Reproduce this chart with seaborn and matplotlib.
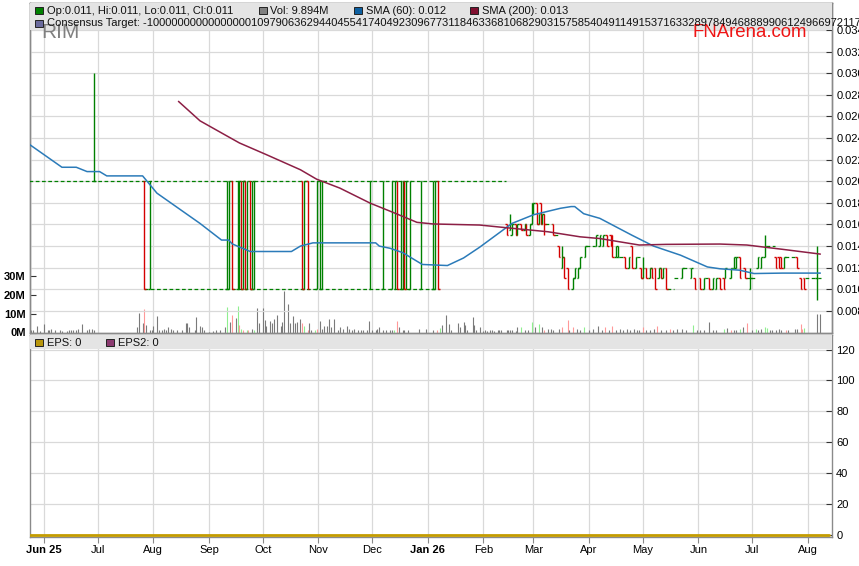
import numpy as np
import pandas as pd
import matplotlib
matplotlib.use("Agg")
import matplotlib.pyplot as plt
import matplotlib.dates as mdates
from matplotlib.patches import Rectangle
from matplotlib import font_manager
import seaborn as sns

sns.set_theme(style="ticks")
plt.rcParams['font.family'] = ['Liberation Sans', 'DejaVu Sans']
_names = {f.name for f in font_manager.fontManager.ttflist}
NARROW = 'Liberation Sans Narrow' if 'Liberation Sans Narrow' in _names else 'Liberation Sans'

# ------------------------------------------------------------------ data
# range-bound bars (2025 - Jan 2026)
range_dates = ['2025-06-29', '2025-07-27', '2025-07-30',
               '2025-09-11', '2025-09-12', '2025-09-14', '2025-09-17', '2025-09-18', '2025-09-19',
               '2025-09-20', '2025-09-21', '2025-09-22', '2025-09-24', '2025-09-25', '2025-09-26',
               '2025-10-23', '2025-10-24', '2025-10-26', '2025-10-31', '2025-11-02', '2025-11-03',
               '2025-11-30', '2025-12-07', '2025-12-12', '2025-12-14', '2025-12-15', '2025-12-17',
               '2025-12-18', '2025-12-19', '2025-12-20', '2025-12-22', '2025-12-28',
               '2026-01-04', '2026-01-05', '2026-01-07']
range_open = [0.020, 0.020, 0.010,
              0.010, 0.010, 0.020, 0.010, 0.010, 0.020,
              0.010, 0.020, 0.010, 0.020, 0.010, 0.010,
              0.020, 0.010, 0.020, 0.010, 0.010, 0.010,
              0.010, 0.010, 0.010, 0.010, 0.020, 0.010,
              0.010, 0.020, 0.010, 0.010, 0.010,
              0.010, 0.010, 0.020]
range_high = [0.030, 0.020, 0.020,
              0.020, 0.020, 0.020, 0.020, 0.020, 0.020,
              0.020, 0.020, 0.020, 0.020, 0.020, 0.020,
              0.020, 0.020, 0.020, 0.020, 0.020, 0.020,
              0.020, 0.020, 0.020, 0.020, 0.020, 0.020,
              0.020, 0.020, 0.020, 0.020, 0.020,
              0.020, 0.020, 0.020]
range_low = [0.020, 0.010, 0.010,
             0.010, 0.010, 0.010, 0.010, 0.010, 0.010,
             0.010, 0.010, 0.010, 0.010, 0.010, 0.010,
             0.010, 0.010, 0.010, 0.010, 0.010, 0.010,
             0.010, 0.010, 0.010, 0.010, 0.010, 0.010,
             0.010, 0.010, 0.010, 0.010, 0.010,
             0.010, 0.010, 0.010]
range_close = [0.020, 0.010, 0.020,
               0.020, 0.020, 0.010, 0.020, 0.020, 0.010,
               0.020, 0.010, 0.020, 0.010, 0.020, 0.020,
               0.010, 0.020, 0.010, 0.020, 0.020, 0.020,
               0.020, 0.020, 0.020, 0.020, 0.010, 0.020,
               0.020, 0.010, 0.020, 0.020, 0.020,
               0.020, 0.020, 0.010]

# traded bars (Feb - Aug 2026)
trade_dates = ['2026-02-14', '2026-02-16', '2026-02-17', '2026-02-19', '2026-02-20', '2026-02-22',
               '2026-02-24', '2026-02-25', '2026-02-27', '2026-02-28', '2026-03-01', '2026-03-03',
               '2026-03-04', '2026-03-05', '2026-03-06', '2026-03-07', '2026-03-12', '2026-03-15',
               '2026-03-17', '2026-03-18', '2026-03-20', '2026-03-23', '2026-03-24', '2026-03-26',
               '2026-03-27', '2026-03-30', '2026-04-05', '2026-04-07', '2026-04-09', '2026-04-11',
               '2026-04-13', '2026-04-14', '2026-04-16', '2026-04-17', '2026-04-21', '2026-04-23',
               '2026-04-25', '2026-04-27', '2026-04-30', '2026-05-01', '2026-05-03', '2026-05-05',
               '2026-05-06', '2026-05-08', '2026-05-10', '2026-05-11', '2026-05-12', '2026-05-14',
               '2026-05-23', '2026-05-28', '2026-05-30', '2026-06-02', '2026-06-04', '2026-06-07',
               '2026-06-09', '2026-06-11', '2026-06-13', '2026-06-15', '2026-06-16', '2026-06-19',
               '2026-06-21', '2026-06-22', '2026-06-24', '2026-06-27', '2026-06-30', '2026-07-04',
               '2026-07-06', '2026-07-08', '2026-07-14', '2026-07-16', '2026-07-17', '2026-07-19',
               '2026-07-26', '2026-07-28', '2026-07-30', '2026-08-06']
trade_open = [0.016, 0.0155, 0.015, 0.016, 0.015, 0.016,
              0.0155, 0.016, 0.015, 0.016, 0.017, 0.018,
              0.016, 0.018, 0.016, 0.017, 0.016, 0.014,
              0.012, 0.013, 0.012, 0.010, 0.011, 0.011,
              0.012, 0.013, 0.014, 0.014, 0.014, 0.015,
              0.015, 0.015, 0.013, 0.013, 0.013, 0.012,
              0.014, 0.012, 0.012, 0.011, 0.012, 0.011,
              0.012, 0.012, 0.011, 0.012, 0.011, 0.012,
              0.011, 0.011, 0.011, 0.011, 0.010, 0.011,
              0.010, 0.010, 0.011, 0.011, 0.011, 0.011,
              0.012, 0.012, 0.013, 0.012, 0.010, 0.012,
              0.012, 0.013, 0.013, 0.013, 0.013, 0.012,
              0.013, 0.011, 0.011, 0.011]
trade_high = [0.016, 0.017, 0.016, 0.016, 0.016, 0.016,
              0.016, 0.016, 0.016, 0.018, 0.018, 0.018,
              0.017, 0.018, 0.017, 0.017, 0.016, 0.014,
              0.014, 0.013, 0.012, 0.011, 0.012, 0.012,
              0.013, 0.014, 0.015, 0.015, 0.015, 0.015,
              0.015, 0.015, 0.014, 0.014, 0.013, 0.013,
              0.014, 0.013, 0.012, 0.013, 0.012, 0.012,
              0.012, 0.012, 0.012, 0.012, 0.012, 0.012,
              0.012, 0.012, 0.011, 0.011, 0.011, 0.011,
              0.011, 0.011, 0.011, 0.011, 0.012, 0.012,
              0.013, 0.013, 0.013, 0.012, 0.012, 0.013,
              0.013, 0.015, 0.013, 0.013, 0.013, 0.013,
              0.013, 0.011, 0.011, 0.014]
trade_low = [0.015, 0.0155, 0.015, 0.015, 0.015, 0.0155,
             0.0155, 0.015, 0.015, 0.016, 0.017, 0.016,
             0.016, 0.016, 0.016, 0.015, 0.015, 0.013,
             0.012, 0.011, 0.010, 0.010, 0.011, 0.011,
             0.012, 0.013, 0.014, 0.014, 0.014, 0.014,
             0.014, 0.013, 0.013, 0.013, 0.012, 0.012,
             0.012, 0.012, 0.011, 0.011, 0.011, 0.011,
             0.011, 0.010, 0.011, 0.011, 0.011, 0.010,
             0.011, 0.011, 0.010, 0.010, 0.010, 0.010,
             0.010, 0.010, 0.010, 0.010, 0.011, 0.011,
             0.012, 0.012, 0.011, 0.011, 0.010, 0.012,
             0.012, 0.013, 0.012, 0.012, 0.012, 0.012,
             0.012, 0.010, 0.010, 0.009]
trade_close = [0.015, 0.016, 0.016, 0.015, 0.016, 0.0155,
               0.016, 0.015, 0.016, 0.018, 0.018, 0.016,
               0.017, 0.016, 0.017, 0.016, 0.015, 0.013,
               0.013, 0.011, 0.010, 0.011, 0.012, 0.012,
               0.013, 0.014, 0.015, 0.015, 0.015, 0.014,
               0.014, 0.013, 0.014, 0.013, 0.012, 0.013,
               0.012, 0.013, 0.011, 0.012, 0.011, 0.012,
               0.011, 0.010, 0.012, 0.011, 0.012, 0.010,
               0.012, 0.012, 0.010, 0.010, 0.011, 0.010,
               0.011, 0.011, 0.010, 0.010, 0.012, 0.012,
               0.013, 0.013, 0.011, 0.011, 0.011, 0.013,
               0.013, 0.014, 0.012, 0.012, 0.012, 0.013,
               0.012, 0.010, 0.010, 0.011]

# periods without trades (price unchanged) -> dashed
flat_start = ['2025-05-24', '2025-07-27', '2026-03-08', '2026-03-13', '2026-03-31', '2026-04-18',
              '2026-04-28', '2026-05-15', '2026-05-19', '2026-05-24', '2026-06-05', '2026-06-20',
              '2026-06-28', '2026-07-01', '2026-07-09', '2026-07-20', '2026-07-31', '2026-08-07']
flat_end = ['2026-02-13', '2026-01-07', '2026-03-11', '2026-03-14', '2026-04-04', '2026-04-20',
            '2026-04-29', '2026-05-18', '2026-05-22', '2026-05-27', '2026-06-06', '2026-06-20',
            '2026-06-29', '2026-07-03', '2026-07-13', '2026-07-25', '2026-08-05', '2026-08-08']
flat_level = [0.020, 0.010, 0.016, 0.015, 0.014, 0.013,
              0.013, 0.010, 0.011, 0.012, 0.011, 0.012,
              0.011, 0.011, 0.014, 0.013, 0.011, 0.011]

# moving averages
sma60_dates = ['2025-05-24', '2025-06-11', '2025-06-19', '2025-06-25', '2025-07-02', '2025-07-06',
               '2025-07-26', '2025-07-29', '2025-08-03', '2025-08-27', '2025-09-08', '2025-09-12',
               '2025-09-14', '2025-09-24', '2025-10-17', '2025-10-22', '2025-10-29', '2025-12-03',
               '2025-12-05', '2025-12-11', '2025-12-18', '2025-12-29', '2026-01-12', '2026-01-21',
               '2026-01-30', '2026-02-17', '2026-03-01', '2026-03-16', '2026-03-22', '2026-03-24',
               '2026-03-29', '2026-04-07', '2026-04-25', '2026-05-07', '2026-05-22', '2026-06-06',
               '2026-06-13', '2026-06-24', '2026-07-02', '2026-07-18', '2026-08-08']
sma60_values = [0.0234, 0.0213, 0.0213, 0.0209, 0.0209, 0.0205,
                0.0205, 0.0199, 0.0189, 0.0161, 0.01456, 0.01456,
                0.0142, 0.0135, 0.0135, 0.0140, 0.0143, 0.0143,
                0.0140, 0.0138, 0.0134, 0.0123, 0.0122, 0.0129,
                0.0139, 0.0161, 0.0169, 0.0175, 0.01766, 0.01766,
                0.0170, 0.01657, 0.0150, 0.0140, 0.01316, 0.01207,
                0.0119, 0.01177, 0.01146, 0.0115, 0.0115]
sma200_dates = ['2025-08-15', '2025-08-27', '2025-09-11', '2025-09-18', '2025-10-03', '2025-10-22',
                '2025-10-31', '2025-11-13', '2025-11-30', '2025-12-13', '2025-12-26', '2026-01-04',
                '2026-01-30', '2026-02-17', '2026-03-09', '2026-03-27', '2026-04-07', '2026-04-29',
                '2026-05-14', '2026-06-13', '2026-06-28', '2026-07-18', '2026-08-08']
sma200_values = [0.0274, 0.0256, 0.0242, 0.02355, 0.02247, 0.02107,
                 0.0202, 0.01937, 0.01797, 0.0171, 0.0162, 0.01605,
                 0.01595, 0.01565, 0.01533, 0.01486, 0.0147, 0.0141,
                 0.01416, 0.01419, 0.0141, 0.0137, 0.01326]

# volume (millions); kind: n = unchanged, u = up day, d = down day
vol_dates = ['2025-05-25', '2025-05-26', '2025-05-28', '2025-05-30', '2025-06-01', '2025-06-03',
             '2025-06-04', '2025-06-05', '2025-06-07', '2025-06-10', '2025-06-11', '2025-06-14',
             '2025-06-15', '2025-06-16', '2025-06-17', '2025-06-19', '2025-06-20', '2025-06-22',
             '2025-06-25', '2025-06-26', '2025-06-28', '2025-06-29', '2025-07-23', '2025-07-24',
             '2025-07-26', '2025-07-27', '2025-07-28', '2025-07-30', '2025-07-31', '2025-08-01',
             '2025-08-03', '2025-08-04', '2025-08-06', '2025-08-07', '2025-08-08', '2025-08-09',
             '2025-08-11', '2025-08-12', '2025-08-14', '2025-08-17', '2025-08-19', '2025-08-20',
             '2025-08-21', '2025-08-24', '2025-08-25', '2025-08-27', '2025-08-28', '2025-08-29',
             '2025-09-01', '2025-09-03', '2025-09-05', '2025-09-07', '2025-09-10', '2025-09-11',
             '2025-09-13', '2025-09-14', '2025-09-16', '2025-09-17', '2025-09-18', '2025-09-19',
             '2025-09-20', '2025-09-22', '2025-09-23', '2025-09-25', '2025-09-26', '2025-09-28',
             '2025-09-29', '2025-10-01', '2025-10-02', '2025-10-03', '2025-10-05', '2025-10-06',
             '2025-10-07', '2025-10-09', '2025-10-11', '2025-10-12', '2025-10-13', '2025-10-15',
             '2025-10-16', '2025-10-18', '2025-10-19', '2025-10-20', '2025-10-22', '2025-10-23',
             '2025-10-24', '2025-10-26', '2025-10-27', '2025-10-28', '2025-10-30', '2025-10-31',
             '2025-11-02', '2025-11-03', '2025-11-04', '2025-11-06', '2025-11-07', '2025-11-08',
             '2025-11-10', '2025-11-12', '2025-11-13', '2025-11-15', '2025-11-17', '2025-11-18',
             '2025-11-20', '2025-11-21', '2025-11-23', '2025-11-25', '2025-11-26', '2025-11-28',
             '2025-11-29', '2025-12-01', '2025-12-03', '2025-12-04', '2025-12-05', '2025-12-07',
             '2025-12-09', '2025-12-11', '2025-12-12', '2025-12-13', '2025-12-15', '2025-12-16',
             '2025-12-18', '2025-12-19', '2025-12-21', '2025-12-27', '2025-12-31',
             '2026-01-04', '2026-01-06', '2026-01-08', '2026-01-09', '2026-01-11', '2026-01-13',
             '2026-01-14', '2026-01-18', '2026-01-19', '2026-01-21', '2026-01-22', '2026-01-23',
             '2026-01-26', '2026-01-27', '2026-01-28', '2026-01-30', '2026-02-01', '2026-02-02',
             '2026-02-03', '2026-02-05', '2026-02-06', '2026-02-07', '2026-02-09', '2026-02-10',
             '2026-02-11', '2026-02-14', '2026-02-15', '2026-02-16', '2026-02-17', '2026-02-19',
             '2026-02-20', '2026-02-22', '2026-02-24', '2026-02-26', '2026-02-28', '2026-03-02',
             '2026-03-04', '2026-03-06', '2026-03-07', '2026-03-09', '2026-03-11', '2026-03-12',
             '2026-03-15', '2026-03-17', '2026-03-20', '2026-03-21', '2026-03-23', '2026-03-25',
             '2026-03-27', '2026-03-29', '2026-04-01', '2026-04-03', '2026-04-06', '2026-04-08',
             '2026-04-10', '2026-04-12', '2026-04-14', '2026-04-16', '2026-04-18', '2026-04-20',
             '2026-04-22', '2026-04-24', '2026-04-26', '2026-04-28', '2026-04-29', '2026-05-01',
             '2026-05-03', '2026-05-05', '2026-05-07', '2026-05-09', '2026-05-11', '2026-05-14',
             '2026-05-16', '2026-05-18', '2026-05-20', '2026-05-23', '2026-05-25', '2026-05-29',
             '2026-05-31', '2026-06-02', '2026-06-04', '2026-06-07', '2026-06-09', '2026-06-11',
             '2026-06-15', '2026-06-17', '2026-06-19', '2026-06-21', '2026-06-22', '2026-06-24',
             '2026-06-26', '2026-06-28', '2026-07-01', '2026-07-03', '2026-07-04', '2026-07-06',
             '2026-07-08', '2026-07-09', '2026-07-11', '2026-07-12', '2026-07-14', '2026-07-16',
             '2026-07-17', '2026-07-20', '2026-07-21', '2026-07-25', '2026-07-26', '2026-07-28',
             '2026-07-29', '2026-07-30', '2026-08-06', '2026-08-08']
vol_millions = [1.6, 1.25, 3.4, 0.7, 4.5, 1.25,
                1.6, 2.1, 1.6, 1.25, 0.9, 0.7,
                1.25, 1.6, 1.25, 1.6, 2.1, 4.5,
                1.25, 2.1, 2.1, 1.25, 2.7, 10.2,
                5.2, 12.3, 3.9, 1.6, 1.25, 3.4,
                8.75, 1.25, 1.6, 2.1, 1.6, 2.7,
                2.1, 1.25, 1.25, 1.6, 5.2, 5.2,
                3.0, 1.6, 8.4, 3.4, 3.0, 1.6,
                0.4, 0.9, 1.25, 1.25, 3.0, 13.7,
                5.7, 9.3, 7.5, 14.1, 3.9, 2.1,
                1.25, 1.6, 1.25, 2.1, 1.6, 12.9,
                5.2, 12.9, 6.6, 3.4, 6.25, 5.2,
                7.0, 9.3, 3.4, 5.7, 22.3, 15.2,
                5.2, 8.75, 5.2, 5.7, 7.0, 5.2,
                3.4, 1.6, 5.2, 1.25, 1.6, 2.1,
                6.25, 2.1, 3.4, 3.4, 7.0, 3.0,
                7.0, 1.6, 2.7, 2.1, 3.4, 2.1,
                1.6, 2.1, 1.25, 1.25, 1.6, 1.6,
                6.25, 1.25, 1.6, 2.1, 3.0, 1.6,
                1.25, 1.6, 1.6, 1.6, 6.25, 3.0,
                1.25, 1.6, 1.25, 2.1, 2.1,
                1.4, 1.4, 2.5, 3.75, 9.1, 4.6,
                1.4, 5.0, 3.2, 5.5, 3.75, 1.4,
                8.2, 3.75, 1.4, 2.9, 0.9, 1.4,
                0.7, 1.6, 1.25, 0.9, 1.6, 1.4,
                1.25, 1.4, 1.25, 1.4, 1.6, 0.9,
                2.9, 3.0, 1.25, 1.6, 5.7, 3.0,
                4.8, 2.7, 1.6, 2.1, 2.1, 1.6,
                2.1, 3.0, 6.6, 1.6, 3.0, 2.1,
                1.6, 3.0, 1.6, 2.1, 3.4, 1.6,
                2.7, 1.6, 3.4, 1.6, 2.1, 1.6,
                2.1, 1.6, 2.1, 1.6, 1.6, 2.7,
                1.6, 1.6, 2.1, 3.4, 1.6, 1.6,
                2.1, 1.6, 2.1, 2.1, 1.6, 3.9,
                1.6, 1.6, 1.6, 5.7, 1.6, 1.1,
                2.0, 2.3, 1.4, 1.6, 1.1, 2.0,
                2.9, 5.0, 1.1, 2.0, 1.1, 2.0,
                3.2, 2.3, 1.1, 1.4, 1.1, 2.0,
                1.1, 1.6, 1.1, 2.0, 2.0, 4.6,
                2.0, 2.3, 9.9, 9.894]
vol_kind = ['n', 'n', 'n', 'n', 'n', 'n',
            'n', 'n', 'n', 'n', 'n', 'n',
            'n', 'n', 'n', 'n', 'n', 'n',
            'n', 'n', 'n', 'n', 'n', 'n',
            'n', 'd', 'n', 'n', 'n', 'n',
            'n', 'n', 'n', 'n', 'n', 'n',
            'n', 'n', 'n', 'n', 'n', 'n',
            'n', 'n', 'n', 'n', 'n', 'n',
            'n', 'n', 'n', 'n', 'n', 'u',
            'n', 'd', 'n', 'u', 'd', 'u',
            'd', 'u', 'd', 'n', 'u', 'n',
            'n', 'n', 'n', 'n', 'n', 'n',
            'n', 'n', 'n', 'n', 'n', 'n',
            'n', 'n', 'n', 'n', 'n', 'd',
            'u', 'd', 'n', 'n', 'u', 'd',
            'n', 'n', 'n', 'n', 'n', 'n',
            'n', 'n', 'n', 'n', 'n', 'n',
            'n', 'n', 'n', 'n', 'n', 'n',
            'n', 'n', 'n', 'n', 'n', 'n',
            'n', 'n', 'n', 'u', 'd', 'n',
            'n', 'n', 'n', 'n', 'n',
            'n', 'd', 'u', 'n', 'n', 'n',
            'n', 'n', 'n', 'n', 'n', 'n',
            'n', 'n', 'n', 'n', 'n', 'n',
            'n', 'n', 'n', 'n', 'n', 'n',
            'n', 'n', 'n', 'n', 'n', 'n',
            'n', 'u', 'n', 'n', 'u', 'n',
            'u', 'n', 'd', 'n', 'n', 'n',
            'n', 'd', 'd', 'n', 'd', 'n',
            'n', 'u', 'n', 'n', 'n', 'n',
            'd', 'n', 'd', 'n', 'n', 'n',
            'n', 'n', 'n', 'n', 'n', 'd',
            'n', 'n', 'n', 'd', 'n', 'n',
            'd', 'n', 'n', 'n', 'n', 'u',
            'n', 'n', 'n', 'n', 'n', 'n',
            'u', 'n', 'd', 'n', 'n', 'u',
            'n', 'd', 'n', 'u', 'n', 'n',
            'u', 'u', 'n', 'n', 'n', 'n',
            'n', 'd', 'n', 'n', 'n', 'd',
            'd', 'u', 'n', 'n']

eps_dates = ['2025-05-24', '2026-08-13']
eps_values = [0, 0]

month_labels = ['Jun 25', 'Jul', 'Aug', 'Sep', 'Oct', 'Nov', 'Dec', 'Jan 26',
                'Feb', 'Mar', 'Apr', 'May', 'Jun', 'Jul', 'Aug']
price_ticks = [0.008, 0.010, 0.012, 0.014, 0.016, 0.018, 0.020, 0.022,
               0.024, 0.026, 0.028, 0.030, 0.032, 0.034]
vol_ticks = [0, 10, 20, 30]
eps_ticks = [0, 20, 40, 60, 80, 100, 120]

legend_top = "Op:0.011, Hi:0.011, Lo:0.011, Cl:0.011"
legend_vol = "Vol: 9.894M"
legend_sma60 = "SMA (60): 0.012"
legend_sma200 = "SMA (200): 0.013"
legend_target = ("Consensus Target: -1000000000000000010979063629440455417404923096773118463368106829031575854049114915371633289784946888990612496697211720")

# ------------------------------------------------------------------ styling
GREEN = '#008000'
RED = '#d40000'
VOLC = {'n': '#7a7a7a', 'u': '#8fef8f', 'd': '#ff9999'}
GRID = '#d9d9d9'
SPINE = '#8a8a8a'

W, H = 859, 566
fig = plt.figure(figsize=(W / 100, H / 100), dpi=100)
fig.patch.set_facecolor('white')

def fx(px):
    return px / W

def fy(py):
    return 1 - py / H

L_PX, R_PX = 30, 832
ax_vol = fig.add_axes([fx(L_PX), fy(332.5), (R_PX - L_PX) / W, (332.5 - 3) / H])
ax_price = ax_vol.twinx()
ax_eps = fig.add_axes([fx(L_PX), fy(537), (R_PX - L_PX) / W, (537 - 335) / H], sharex=ax_vol)

x_lo = mdates.date2num(pd.Timestamp('2025-05-24 04:30'))
x_hi = mdates.date2num(pd.Timestamp('2026-08-14 12:00'))
P_LO, P_HI = 0.006, 0.006 + 329.5 / 10.8 * 0.001

def dnum(lst):
    return mdates.date2num(pd.to_datetime(lst))

# volume
ax_vol.vlines(dnum(vol_dates), 0, vol_millions,
              colors=[VOLC[k] for k in vol_kind], lw=0.8, zorder=2)

# dashed no-trade stretches
ax_price.hlines(flat_level, dnum(flat_start) - 0.5, dnum(flat_end) + 0.5,
                colors=GREEN, linestyles=(0, (3, 2)), lw=0.9, zorder=3)

def draw_bars(ax, dates, o, h, l, c):
    x = dnum(dates)
    o, h, l, c = map(np.asarray, (o, h, l, c))
    cols = np.where(c >= o, GREEN, RED)
    ax.vlines(x, l, h, colors=cols, lw=1.0, zorder=4)
    ax.hlines(o, x - 0.9, x, colors=cols, lw=1.0, zorder=4)
    ax.hlines(c, x, x + 0.9, colors=cols, lw=1.0, zorder=4)

draw_bars(ax_price, range_dates, range_open, range_high, range_low, range_close)
draw_bars(ax_price, trade_dates, trade_open, trade_high, trade_low, trade_close)

sns.lineplot(x=dnum(sma60_dates), y=sma60_values, ax=ax_price, color='#2b7bb9',
             lw=1.1, zorder=5, legend=False)
sns.lineplot(x=dnum(sma200_dates), y=sma200_values, ax=ax_price, color='#8c1f45',
             lw=1.1, zorder=5, legend=False)
sns.lineplot(x=dnum(eps_dates), y=eps_values, ax=ax_eps, color='#c49c00',
             lw=2.0, zorder=5, legend=False)

# limits
ax_vol.set_xlim(x_lo, x_hi)
ax_price.set_ylim(P_LO, P_HI)
ax_vol.set_ylim(0, 329.5 / 1.87)
ax_eps.set_ylim(-1.3, 129.4)

# x ticks (months)
month_starts = dnum(pd.date_range('2025-06-01', '2026-08-01', freq='MS'))
ax_eps.set_xticks(month_starts)
ax_eps.set_xticklabels(month_labels, fontfamily=NARROW, fontsize=8)
for i, t in enumerate(ax_eps.get_xticklabels()):
    if month_labels[i] in ('Jun 25', 'Jan 26'):
        t.set_fontweight('bold')
ax_eps.tick_params(axis='x', bottom=True, direction='out', length=4, width=0.8,
                   color=SPINE, pad=2, labelcolor='black')
ax_vol.tick_params(axis='x', bottom=False, labelbottom=False)

# y ticks
ax_price.set_yticks(price_ticks)
ax_price.set_yticklabels([f'{v:.3f}' for v in price_ticks])
ax_price.tick_params(axis='y', right=True, direction='in', length=4, width=0.8,
                     color='#333333', labelsize=8, pad=3, labelcolor='black')
ax_vol.set_yticks(vol_ticks)
ax_vol.set_yticklabels([f'{v}M' for v in vol_ticks])
ax_vol.tick_params(axis='y', left=True, right=False, direction='in', length=4, width=0.8,
                   color='#333333', labelsize=8, pad=3, labelcolor='black')
for t in ax_vol.get_yticklabels():
    t.set_fontweight('bold')
ax_eps.yaxis.tick_right()
ax_eps.set_yticks(eps_ticks)
ax_eps.set_yticklabels([str(v) for v in eps_ticks])
ax_eps.tick_params(axis='y', right=True, left=False, direction='in', length=4, width=0.8,
                   color='#333333', labelsize=8, pad=3, labelcolor='black')

# grids
ax_vol.grid(axis='x', color=GRID, lw=0.9)
ax_vol.grid(axis='y', visible=False)
ax_price.grid(axis='y', color=GRID, lw=0.9)
ax_price.set_axisbelow(True)
ax_vol.set_axisbelow(True)
ax_eps.grid(True, color=GRID, lw=0.9)
ax_eps.set_axisbelow(True)

for ax in (ax_vol, ax_price, ax_eps):
    ax.set_xlabel('')
    ax.set_ylabel('')
    for s in ax.spines.values():
        s.set_color(SPINE)
        s.set_linewidth(1.0)
        s.set_visible(True)

# header band of price panel
band_bottom = (0.034 - P_LO) / (P_HI - P_LO)
ax_price.add_patch(Rectangle((0, band_bottom), 1, 1 - band_bottom, transform=ax_price.transAxes,
                             facecolor='#e4e4e4', edgecolor='none', zorder=10, clip_on=False))
# header band of EPS panel
ax_eps.axhspan(120.4, 129.4, facecolor='#e4e4e4', edgecolor='none', zorder=3)

SQ = 7.5

def legend_square(px, py, color):
    fig.add_artist(Rectangle((fx(px), fy(py + SQ / 2)), SQ / W, SQ / H, transform=fig.transFigure,
                             facecolor=color, edgecolor='#222222', lw=0.7, zorder=20))

def legend_text(px, py, s):
    fig.text(fx(px), fy(py), s, fontsize=8, va='center', ha='left', color='#111111', zorder=21)

fig.text(fx(41), fy(33), 'RIM', fontsize=15, color='#808080', va='center', ha='left', zorder=19)
fig.text(fx(693), fy(32.5), 'FNArena.com', fontsize=13.4, color='#ee1515', va='center',
         ha='left', zorder=19)

legend_square(35, 10.5, GREEN)
legend_text(47, 10.5, legend_top)
legend_square(259, 10.5, '#808080')
legend_text(270, 10.5, legend_vol)
legend_square(354, 10.5, '#0d5fa0')
legend_text(366, 10.5, legend_sma60)
legend_square(470, 10.5, '#801030')
legend_text(482, 10.5, legend_sma200)
legend_square(35, 23.5, '#6a6a9c')
legend_text(47, 23.5, legend_target)

legend_square(35, 342.5, '#b8960c')
legend_text(47, 342.5, 'EPS: 0')
legend_square(106, 342.5, '#8b3a70')
legend_text(118, 342.5, 'EPS2: 0')

fig.savefig('out.png', dpi=100)
